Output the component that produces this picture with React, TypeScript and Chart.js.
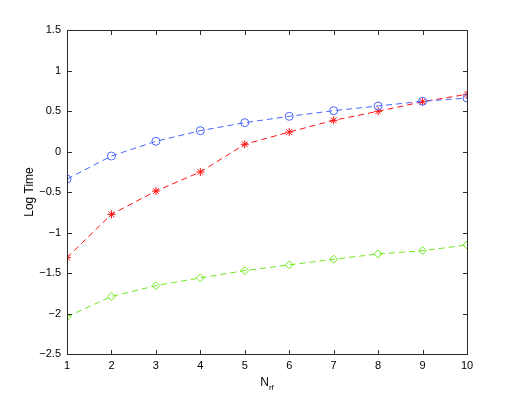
import React, { useEffect, useRef } from "react";
import { Chart, registerables } from "chart.js";

Chart.register(...registerables);

const nrf = [1, 2, 3, 4, 5, 6, 7, 8, 9, 10];
const blueSeries = [-0.34, -0.056, 0.126, 0.257, 0.356, 0.434, 0.504, 0.562, 0.62, 0.66];
const redSeries = [-1.31, -0.776, -0.488, -0.253, 0.089, 0.24, 0.385, 0.496, 0.615, 0.706];
const greenSeries = [-2.04, -1.79, -1.656, -1.56, -1.47, -1.40, -1.33, -1.265, -1.225, -1.154];
const yTicks = [-2.5, -2, -1.5, -1, -0.5, 0, 0.5, 1, 1.5];
const xLabel = "N";
const xLabelSub = "rf";
const yLabel = "Log Time";

const FONT = "Liberation Sans, Arial, Helvetica, sans-serif";

const boxPlugin = {
  id: "matlabBox",
  afterDraw(chart: any) {
    const ctx = chart.ctx as CanvasRenderingContext2D;
    const ca = chart.chartArea;
    const xs = chart.scales.x;
    const ys = chart.scales.y;
    ctx.save();
    ctx.setLineDash([]);
    ctx.strokeStyle = "#2b2b2b";
    ctx.lineWidth = 1;
    ctx.strokeRect(ca.left + 0.5, ca.top + 0.5, ca.right - ca.left, ca.bottom - ca.top);
    const tl = 4;
    ctx.beginPath();
    for (const t of xs.ticks) {
      const px = Math.round(xs.getPixelForValue(t.value)) + 0.5;
      ctx.moveTo(px, ca.bottom);
      ctx.lineTo(px, ca.bottom - tl);
      ctx.moveTo(px, ca.top + 1);
      ctx.lineTo(px, ca.top + 1 + tl);
    }
    for (const t of ys.ticks) {
      const py = Math.round(ys.getPixelForValue(t.value)) + 0.5;
      ctx.moveTo(ca.left + 1, py);
      ctx.lineTo(ca.left + 1 + tl, py);
      ctx.moveTo(ca.right, py);
      ctx.lineTo(ca.right - tl, py);
    }
    ctx.stroke();

    ctx.fillStyle = "#000";
    ctx.font = `12px ${FONT}`;
    ctx.textBaseline = "alphabetic";
    const cx = (ca.left + ca.right) / 2;
    const mainW = ctx.measureText(xLabel).width;
    ctx.font = `8px ${FONT}`;
    const subW = ctx.measureText(xLabelSub).width;
    const startX = cx - (mainW + subW) / 2;
    ctx.font = `12px ${FONT}`;
    ctx.textAlign = "left";
    ctx.fillText(xLabel, startX, 386);
    ctx.font = `8px ${FONT}`;
    ctx.fillText(xLabelSub, startX + mainW, 390);

    ctx.font = `12px ${FONT}`;
    ctx.translate(33, (ca.top + ca.bottom) / 2);
    ctx.rotate(-Math.PI / 2);
    ctx.textAlign = "center";
    ctx.fillText(yLabel, 0, 0);
    ctx.restore();
  },
};

export default function App() {
  const ref = useRef<HTMLCanvasElement>(null);
  useEffect(() => {
    const mk = (label: string, data: number[], color: string, style: any, radius: number) => ({
      label,
      data: nrf.map((x, i) => ({ x, y: data[i] })),
      borderColor: color,
      backgroundColor: color,
      borderWidth: 1,
      borderDash: [6, 4],
      pointStyle: style,
      pointRadius: radius,
      pointBorderColor: color,
      pointBackgroundColor: "rgba(0,0,0,0)",
      pointBorderWidth: 1,
      tension: 0,
    });
    const chart = new Chart(ref.current!, {
      type: "line",
      data: {
        datasets: [
          mk("blue", blueSeries, "#4a66ff", "circle", 4),
          mk("red", redSeries, "#ff1010", "star", 4),
          mk("green", greenSeries, "#70e81c", "rectRot", 4),
        ],
      },
      plugins: [boxPlugin],
      options: {
        animation: false,
        responsive: false,
        layout: { padding: { top: 30, right: 48 } },
        plugins: { legend: { display: false }, tooltip: { enabled: false } },
        scales: {
          x: {
            type: "linear",
            min: 1,
            max: 10,
            afterFit: (s: any) => {
              s.height = 45;
            },
            afterBuildTicks: (s: any) => {
              s.ticks = nrf.map((v) => ({ value: v }));
            },
            grid: { display: false, tickLength: 0 },
            border: { display: true, color: "#2b2b2b" },
            ticks: {
              padding: 5,
              color: "#000",
              font: { family: FONT, size: 11 },
              maxRotation: 0,
              autoSkip: false,
            },
          },
          y: {
            type: "linear",
            min: -2.5,
            max: 1.5,
            afterFit: (s: any) => {
              s.width = 67;
            },
            afterBuildTicks: (s: any) => {
              s.ticks = yTicks.map((v) => ({ value: v }));
            },
            grid: { display: false, tickLength: 0 },
            border: { display: true, color: "#2b2b2b" },
            ticks: {
              padding: 6,
              color: "#000",
              font: { family: FONT, size: 11 },
              callback: (v: any) => String(v).replace("-", "\u2212"),
            },
          },
        },
      },
    });
    return () => chart.destroy();
  }, []);
  return (
    <div style={{ position: "fixed", left: 0, top: 0, width: 515, height: 399, background: "#fff" }}>
      <canvas ref={ref} width={515} height={399} style={{ width: 515, height: 399 }} />
    </div>
  );
}
